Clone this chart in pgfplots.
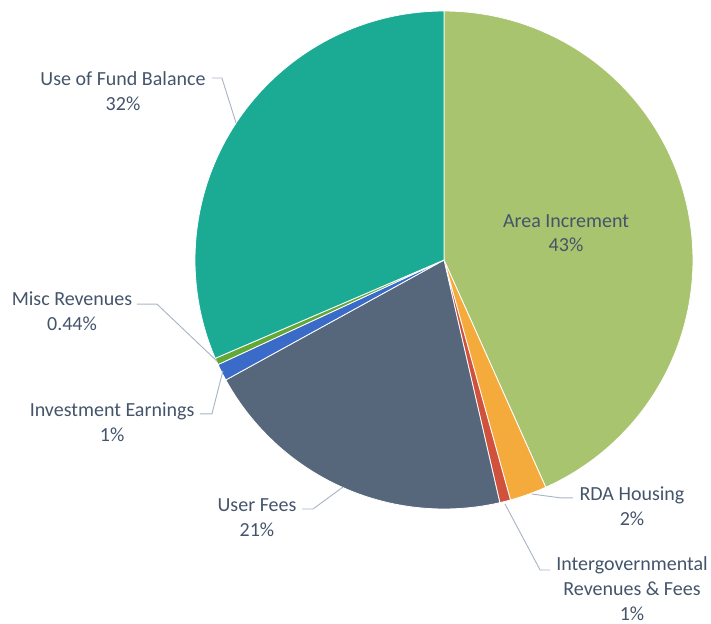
\documentclass[border=0pt]{standalone}
\usepackage{pgfplots}
\pgfplotsset{compat=1.18}
\usepackage{fontspec}
\setmainfont{Carlito}

\definecolor{cArea}{HTML}{A9C46F}
\definecolor{cRDA}{HTML}{F5AA3C}
\definecolor{cInter}{HTML}{D0513C}
\definecolor{cUser}{HTML}{56677C}
\definecolor{cInv}{HTML}{3A6BC9}
\definecolor{cMisc}{HTML}{62A834}
\definecolor{cFund}{HTML}{1BAB95}
\definecolor{txt}{HTML}{44546A}
\definecolor{lead}{HTML}{A9B5C6}

% running start angle of the next wedge (clockwise from 12 o'clock)
\def\angA{90}
\newcommand\slice[2]{%
  \pgfmathsetmacro\angB{\angA-3.6*#1}%
  \edef\temp{\noexpand\addplot[fill=#2, draw=white, line width=0.6pt,
    domain=\angA:\angB, samples=90] ({cos(x)},{sin(x)}) -- (axis cs:0,0) -- cycle;}%
  \temp
  \global\let\angA\angB}

\begin{document}
\begin{tikzpicture}[x=0.75pt,y=0.75pt]
\useasboundingbox (-195,-115) rectangle (516,509);
\begin{axis}[
  at={(0,0)}, anchor=south west,
  hide axis, scale only axis,
  width=373.5pt, height=373.5pt,
  xmin=-1, xmax=1, ymin=-1, ymax=1,
  clip=false,
]
% shares in percent, clockwise from the top
\slice{43.3}{cArea}
\slice{2.4}{cRDA}
\slice{0.7}{cInter}
\slice{20.6}{cUser}
\slice{1.1}{cInv}
\slice{0.44}{cMisc}
\slice{31.46}{cFund}

\begin{scope}[every node/.style={align=center, text=txt,
    font=\fontsize{15}{18.5}\selectfont, inner sep=1pt}]
\node at (axis cs:0.490,0.108) {Area Increment\\43\%};
\node at (axis cs:-1.289,0.679) {Use of Fund Balance\\32\%};
\node at (axis cs:-1.494,-0.205) {Misc Revenues\\0.44\%};
\node at (axis cs:-1.333,-0.651) {Investment Earnings\\1\%};
\node at (axis cs:-0.751,-1.036) {User Fees\\21\%};
\node at (axis cs:0.755,-0.988) {RDA Housing\\2\%};
\node at (axis cs:0.755,-1.320) {Intergovernmental\\Revenues \& Fees\\1\%};
\end{scope}

\begin{scope}[lead, line width=0.7pt]
\draw (axis cs:-0.932,0.731) -- (axis cs:-0.892,0.731) -- (axis cs:-0.835,0.550);
\draw (axis cs:-1.233,-0.177) -- (axis cs:-1.153,-0.177) -- (axis cs:-0.912,-0.406);
\draw (axis cs:-0.980,-0.618) -- (axis cs:-0.932,-0.618) -- (axis cs:-0.888,-0.446);
\draw (axis cs:-0.570,-1.000) -- (axis cs:-0.526,-1.000) -- (axis cs:-0.406,-0.912);
\draw (axis cs:0.518,-0.955) -- (axis cs:0.466,-0.955) -- (axis cs:0.353,-0.940);
\draw (axis cs:0.426,-1.245) -- (axis cs:0.386,-1.245) -- (axis cs:0.245,-0.980);
\end{scope}
\end{axis}
\end{tikzpicture}
\end{document}
